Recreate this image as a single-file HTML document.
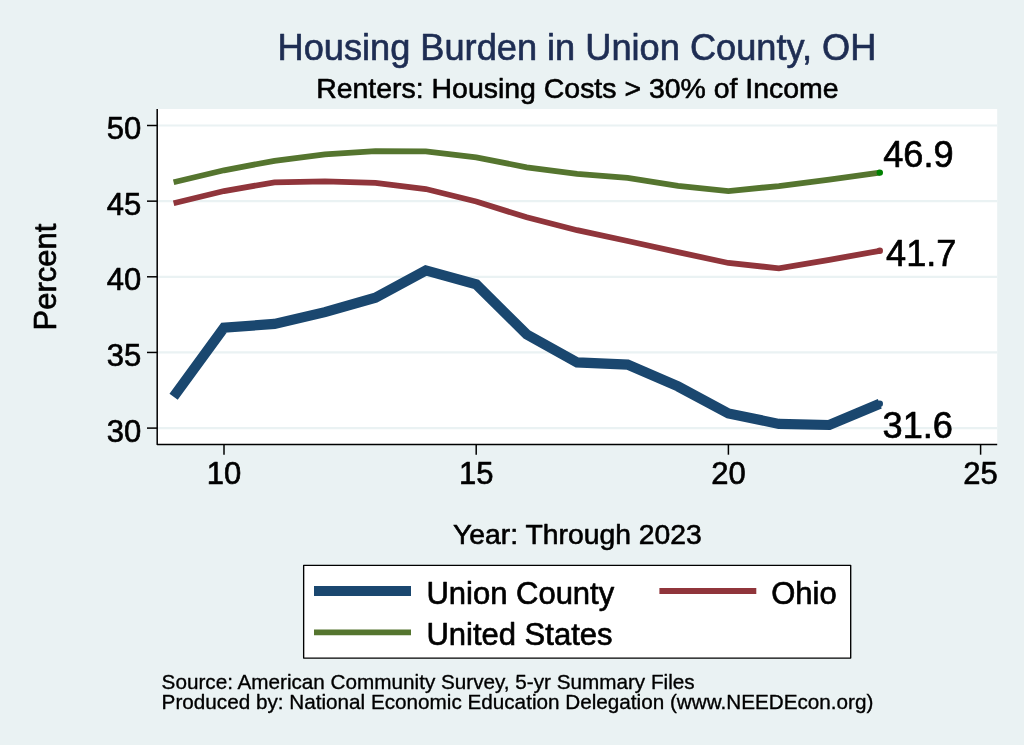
<!DOCTYPE html>
<html lang="en">
<head>
<meta charset="utf-8">
<title>Housing Burden in Union County, OH</title>
<style>
html,body{margin:0;padding:0;background:#eaf2f3;}
body{width:1024px;height:745px;overflow:hidden;font-family:"Liberation Sans",Arial,Helvetica,sans-serif;}
svg{display:block;will-change:transform;}
</style>
</head>
<body>
<svg width="1024" height="745" viewBox="0 0 1024 745">
<rect x="0" y="0" width="1024" height="745" fill="#eaf2f3"/>
<rect x="157.2" y="109" width="840" height="335.2" fill="#ffffff"/>
<line x1="158" y1="125.5" x2="997.2" y2="125.5" stroke="#eaf2f3" stroke-width="2.2"/>
<line x1="158" y1="201.15" x2="997.2" y2="201.15" stroke="#eaf2f3" stroke-width="2.2"/>
<line x1="158" y1="276.8" x2="997.2" y2="276.8" stroke="#eaf2f3" stroke-width="2.2"/>
<line x1="158" y1="352.45" x2="997.2" y2="352.45" stroke="#eaf2f3" stroke-width="2.2"/>
<line x1="158" y1="428.1" x2="997.2" y2="428.1" stroke="#eaf2f3" stroke-width="2.2"/>
<polyline points="173.6,182.30 224.0,170.30 274.5,160.80 324.9,154.30 375.4,151.10 425.8,151.30 476.2,157.30 526.7,167.30 577.1,173.80 627.6,177.80 678.0,185.80 728.4,191.05 778.9,186.05 829.3,179.55 879.8,172.60" fill="none" stroke="#55752f" stroke-width="5.8" stroke-linejoin="miter"/>
<polyline points="173.6,203.30 224.0,191.05 274.5,182.30 324.9,181.30 375.4,182.80 425.8,189.05 476.2,201.55 526.7,217.30 577.1,230.20 627.6,241.00 678.0,252.20 728.4,263.00 778.9,268.30 829.3,259.80 879.8,250.80" fill="none" stroke="#90353b" stroke-width="5.8" stroke-linejoin="miter"/>
<polyline points="173.6,396.65 224.0,327.65 274.5,323.90 324.9,312.15 375.4,297.65 425.8,270.40 476.2,284.40 526.7,334.40 577.1,362.40 627.6,364.65 678.0,386.40 728.4,413.40 778.9,423.90 829.3,425.00 879.8,403.80" fill="none" stroke="#1a476f" stroke-width="10.2" stroke-linejoin="miter"/>
<circle cx="879.8" cy="172.6" r="3.2" fill="#008000"/>
<circle cx="879.8" cy="250.8" r="3.2" fill="#90353b"/>
<circle cx="879.8" cy="403.8" r="3.2" fill="#1a476f"/>
<path d="M157.2 109 V444.4 H997.2" fill="none" stroke="#000" stroke-width="1.5" stroke-linejoin="round"/>
<line x1="147" y1="125.5" x2="157.2" y2="125.5" stroke="#000" stroke-width="1.5"/>
<line x1="147" y1="201.15" x2="157.2" y2="201.15" stroke="#000" stroke-width="1.5"/>
<line x1="147" y1="276.8" x2="157.2" y2="276.8" stroke="#000" stroke-width="1.5"/>
<line x1="147" y1="352.45" x2="157.2" y2="352.45" stroke="#000" stroke-width="1.5"/>
<line x1="147" y1="428.1" x2="157.2" y2="428.1" stroke="#000" stroke-width="1.5"/>
<line x1="224.0" y1="444.4" x2="224.0" y2="454.7" stroke="#000" stroke-width="1.5"/>
<line x1="476.2" y1="444.4" x2="476.2" y2="454.7" stroke="#000" stroke-width="1.5"/>
<line x1="728.4" y1="444.4" x2="728.4" y2="454.7" stroke="#000" stroke-width="1.5"/>
<line x1="980.6" y1="444.4" x2="980.6" y2="454.7" stroke="#000" stroke-width="1.5"/>
<g font-family="'Liberation Sans', Arial, Helvetica, sans-serif" fill="#000" stroke="#000" stroke-width="0.65" stroke-linejoin="round">
<text x="141.2" y="138.9" font-size="31" text-anchor="end">50</text>
<text x="141.2" y="214.6" font-size="31" text-anchor="end">45</text>
<text x="141.2" y="290.2" font-size="31" text-anchor="end">40</text>
<text x="141.2" y="365.8" font-size="31" text-anchor="end">35</text>
<text x="141.2" y="441.5" font-size="31" text-anchor="end">30</text>
<text x="224.0" y="484.4" font-size="31" text-anchor="middle">10</text>
<text x="476.2" y="484.4" font-size="31" text-anchor="middle">15</text>
<text x="728.4" y="484.4" font-size="31" text-anchor="middle">20</text>
<text x="980.6" y="484.4" font-size="31" text-anchor="middle">25</text>
<text x="576.9" y="60.2" font-size="36.2" text-anchor="middle" fill="#1e2d53" stroke="#1e2d53">Housing Burden in Union County, OH</text>
<text x="577.4" y="98.4" font-size="28.45" stroke-width="0.6" text-anchor="middle">Renters: Housing Costs &gt; 30% of Income</text>
<text x="577.4" y="543.8" font-size="28.3" stroke-width="0.6" text-anchor="middle">Year: Through 2023</text>
<text transform="translate(55.6 277.0) rotate(-90)" font-size="31" text-anchor="middle">Percent</text>
<text x="883.2" y="166.8" font-size="36.2">46.9</text>
<text x="886" y="266" font-size="36.2">41.7</text>
<text x="882.5" y="438.2" font-size="36.2">31.6</text>
<rect x="303.65" y="565.3" width="547.05" height="92.75" fill="#fff" stroke="#000" stroke-width="1.35"/>
<line x1="314" y1="591.1" x2="411" y2="591.1" stroke="#1a476f" stroke-width="10"/>
<line x1="659.4" y1="591" x2="756.3" y2="591" stroke="#90353b" stroke-width="5.8"/>
<line x1="314" y1="632.4" x2="411" y2="632.4" stroke="#55752f" stroke-width="5.9"/>
<text x="426.4" y="604.1" font-size="31">Union County</text>
<text x="426.4" y="645.2" font-size="31">United States</text>
<text x="771.2" y="604.1" font-size="31">Ohio</text>
<text x="161.6" y="688.8" font-size="20.69" stroke-width="0.35">Source: American Community Survey, 5-yr Summary Files</text>
<text x="161.6" y="708.9" font-size="20.69" stroke-width="0.35">Produced by: National Economic Education Delegation (www.NEEDEcon.org)</text>
</g>
</svg>
</body>
</html>
